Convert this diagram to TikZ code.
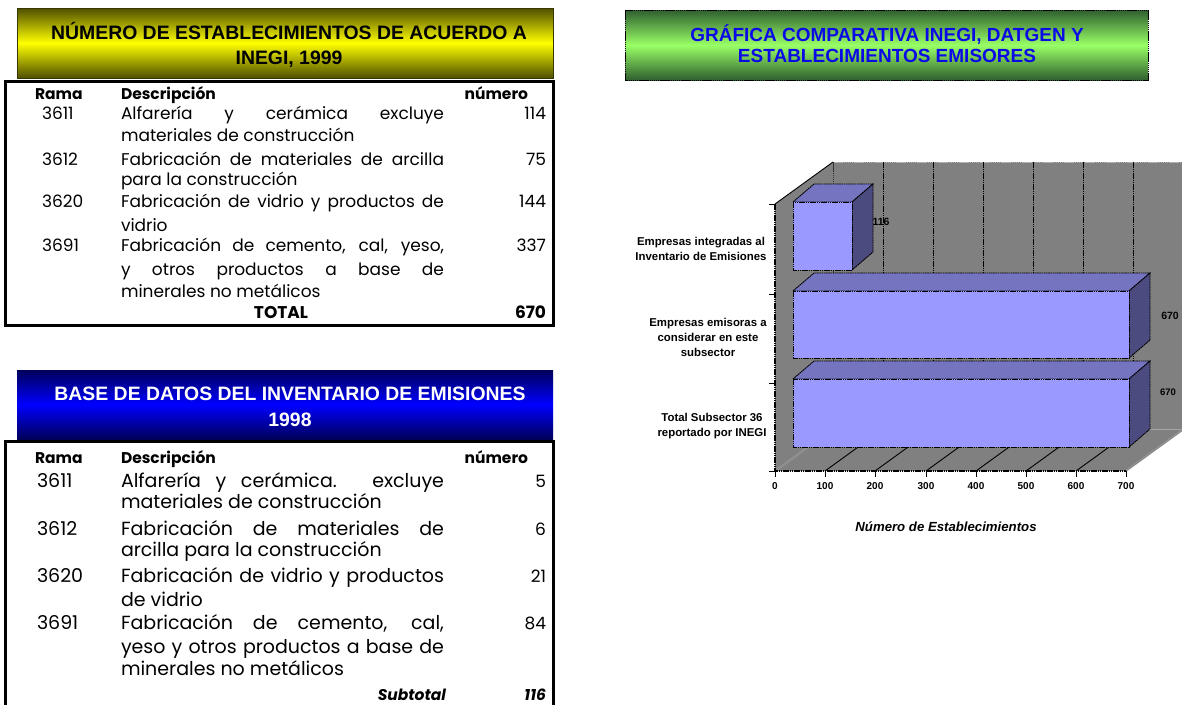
\documentclass[tikz,border=0pt]{standalone}
\usepackage{fontspec}
\setmainfont{Poppins}
\newfontfamily\arialf{Liberation Sans}
\newcommand\TabFA{\fontsize{17}{20}\selectfont}
\newcommand\TabFB{\fontsize{19}{22}\selectfont}
\newcommand\TabFH{\fontsize{15.5}{18}\selectfont\bfseries}
\newcommand\TitF{\arialf\bfseries\fontsize{19.4}{25}\selectfont}
\newcommand\JustLine[1]{\makebox[323pt][s]{#1}}
\definecolor{olivedk}{HTML}{4F4F00}
\definecolor{yelmid}{HTML}{FFFF00}
\definecolor{navydk}{HTML}{00005A}
\definecolor{bluemid}{HTML}{0000FF}
\definecolor{greendk}{HTML}{2F5F2F}
\definecolor{greenmid}{HTML}{99FF66}
\definecolor{titleblue}{HTML}{0A0AE6}
\definecolor{wallgray}{HTML}{808080}
\definecolor{barfront}{HTML}{9999FF}
\definecolor{bartop}{HTML}{7474C0}
\definecolor{barside}{HTML}{4B4B80}
\tikzset{
  every node/.style={inner sep=0pt, outer sep=0pt},
  ta/.style={font=\TabFA, anchor=base west},
  tae/.style={font=\TabFA, anchor=base east},
  tb/.style={font=\TabFB, anchor=base west},
  th/.style={font=\TabFH, anchor=base west},
  the/.style={font=\TabFH, anchor=base east},
  ttl/.style={font=\TitF, anchor=base},
  tabbox/.style={draw=black, line width=3pt},
  barline/.style={draw=black, line width=0.9pt, dash pattern=on 1.6pt off 0.6pt},
  gridl/.style={draw=black, line width=0.9pt, dash pattern=on 1.6pt off 0.6pt},
  clab/.style={font=\arialf\bfseries\fontsize{11.4}{15}\selectfont, align=center},
  vlab/.style={font=\arialf\bfseries\fontsize{10.5}{12}\selectfont},
  xlab/.style={font=\arialf\bfseries\fontsize{10}{12}\selectfont},
}
\begin{document}
\begin{tikzpicture}[x=1pt,y=-1pt]
\useasboundingbox[fill=white] (0,0) rectangle (1182,704);

% ---------- Table 1 ----------
\shade[top color=olivedk, bottom color=olivedk, middle color=yelmid] (17,8) rectangle (553,78);
\draw[olivedk!70!black, line width=0.8pt] (17,8) rectangle (553,78);
\node[ttl] (y1) at (289,39) {NÚMERO DE ESTABLECIMIENTOS DE ACUERDO A};
\node[ttl] (y2) at (289,64) {INEGI, 1999};
\draw[tabbox] (5,81) rectangle (553,325);

\node[th] (a0r) at (35,99) {Rama};
\node[th] (a0d) at (121,99) {Descripción};
\node[the] (a0n) at (528,99) {número};

\node[ta] (a1r) at (42,119) {3611};
\node[ta] (a1d) at (121,119) {\JustLine{Alfarería y cerámica excluye}};
\node[tae] (a1n) at (546,119) {114};
\node[ta] (a1e) at (121,141) {materiales de construcción};

\node[ta] (a2r) at (42,165) {3612};
\node[ta] (a2d) at (121,165) {\JustLine{Fabricación de materiales de arcilla}};
\node[tae] (a2n) at (546,165) {75};
\node[ta] (a2e) at (121,185) {para la construcción};

\node[ta] (a3r) at (42,207) {3620};
\node[ta] (a3d) at (121,207) {\JustLine{Fabricación de vidrio y productos de}};
\node[tae] (a3n) at (546,207) {144};
\node[ta] (a3e) at (121,231) {vidrio};

\node[ta] (a4r) at (42,251) {3691};
\node[ta] (a4d) at (121,251) {\JustLine{Fabricación de cemento, cal, yeso,}};
\node[tae] (a4n) at (546,251) {337};
\node[ta] (a4e) at (121,275) {\JustLine{y otros productos a base de}};
\node[ta] (a4f) at (121,297) {minerales no metálicos};

\node[font=\TabFA\bfseries, anchor=base] (atot) at (281,318) {TOTAL};
\node[tae, font=\TabFA\bfseries] (atotn) at (546,318) {670};

% ---------- Table 2 ----------
\shade[top color=navydk, bottom color=navydk, middle color=bluemid] (17,370) rectangle (553,439);
\node[ttl, text=white] (b1) at (290,400) {BASE DE DATOS DEL INVENTARIO DE EMISIONES};
\node[ttl, text=white] (b2) at (290,426) {1998};
\draw[tabbox] (5,441) rectangle (553,720);

\node[th] (b0r) at (35,463) {Rama};
\node[th] (b0d) at (121,463) {Descripción};
\node[the] (b0n) at (528,463) {número};

\node[tb] (b1r) at (37,487) {3611};
\node[tb] (b1d) at (121,487) {\JustLine{Alfarería y cerámica. excluye}};
\node[tae] (b1n) at (546,487) {5};
\node[tb] (b1e) at (121,508) {materiales de construcción};

\node[tb] (b2r) at (37,535) {3612};
\node[tb] (b2d) at (121,535) {\JustLine{Fabricación de materiales de}};
\node[tae] (b2n) at (546,535) {6};
\node[tb] (b2e) at (121,556) {arcilla para la construcción};

\node[tb] (b3r) at (37,582) {3620};
\node[tb] (b3d) at (121,582) {\JustLine{Fabricación de vidrio y productos}};
\node[tae] (b3n) at (546,582) {21};
\node[tb] (b3e) at (121,606) {de vidrio};

\node[tb] (b4r) at (37,629) {3691};
\node[tb] (b4d) at (121,629) {\JustLine{Fabricación de cemento, cal,}};
\node[tae] (b4n) at (546,629) {84};
\node[tb] (b4e) at (121,653) {\JustLine{yeso y otros productos a base de}};
\node[tb] (b4f) at (121,675) {minerales no metálicos};

\node[the, font=\TabFH\itshape] (bsub) at (446,700) {Subtotal};
\node[the, font=\TabFH\itshape] (bsubn) at (546,700) {116};

% ---------- Chart title ----------
\shade[top color=greendk, bottom color=greendk, middle color=greenmid] (625,10) rectangle (1148,80);
\draw[black, line width=0.8pt, dash pattern=on 1.5pt off 0.6pt] (625,10) rectangle (1148,80);
\node[ttl, text=titleblue, font=\arialf\bfseries\fontsize{19}{22}\selectfont] (g1) at (887,41.5) {GRÁFICA COMPARATIVA INEGI, DATGEN Y};
\node[ttl, text=titleblue, font=\arialf\bfseries\fontsize{19}{22}\selectfont] (g2) at (887,62.5) {ESTABLECIMIENTOS EMISORES};

% ---------- Chart walls ----------
\fill[wallgray] (833,162) rectangle (1200,429);
\fill[wallgray] (775,204) -- (833,162) -- (833,429) -- (775,471) -- cycle;
\fill[wallgray] (775,471) -- (1126,471) -- (1184,429) -- (833,429) -- cycle;
\draw[gray!60, line width=0.6pt, dash pattern=on 1.5pt off 0.6pt] (833,162) -- (1200,162);
\draw[gray!40!black, line width=0.8pt, dash pattern=on 1.5pt off 0.6pt] (833,162) -- (833,429);
\foreach \gx in {883,933,983,1033,1083,1133}
  \draw[gridl] (\gx,162) -- (\gx,429);
\draw[gray!70, line width=0.5pt] (833,429) -- (1200,429);
\draw[black, line width=0.9pt] (775,204) -- (833,162);
\foreach \fx in {825,875,926,976,1026,1076}
  \draw[black, line width=0.9pt] (\fx,471) -- ++(58,-42);
\draw[gray!70, line width=1.6pt] (775,471) -- (833,429);
\draw[wallgray, line width=0.6pt] (775,471) -- (833,429);
\draw[gray!70, line width=1.6pt] (1126,471) -- (1184,429);
\draw[wallgray, line width=0.6pt] (1126,471) -- (1184,429);
\draw[gridl, line width=1.2pt] (775,204) -- (775,471) -- (1126,471);
\foreach \ty in {204,294,383,471}
  \draw[black, line width=0.9pt] (769,\ty) -- (775,\ty);
\foreach \tx in {775,825,875,926,976,1026,1076,1126}
  \draw[black, line width=0.9pt] (\tx,471) -- (\tx,477);

% ---------- Bars ----------
\filldraw[fill=bartop, barline] (793,202) -- (814,184) -- (873,184) -- (852,202) -- cycle;
\filldraw[fill=barside, barline] (852,202) -- (873,184) -- (873,252) -- (852,270) -- cycle;
\filldraw[fill=barfront, barline] (793,202) rectangle (852,270);

\filldraw[fill=bartop, barline] (793,291) -- (814,273) -- (1150,273) -- (1129,291) -- cycle;
\filldraw[fill=barside, barline] (1129,291) -- (1150,273) -- (1150,340) -- (1129,358) -- cycle;
\filldraw[fill=barfront, barline] (793,291) rectangle (1129,358);

\filldraw[fill=bartop, barline] (793,379) -- (814,361) -- (1150,361) -- (1129,379) -- cycle;
\filldraw[fill=barside, barline] (1129,379) -- (1150,361) -- (1150,429) -- (1129,447) -- cycle;
\filldraw[fill=barfront, barline] (793,379) rectangle (1129,447);

% ---------- Chart labels ----------
\node[vlab] (v1) at (881,222) {116};
\node[vlab] (v2) at (1170,316) {670};
\node[vlab, font=\arialf\bfseries\fontsize{9.5}{11}\selectfont] (v3) at (1168,392) {670};

\node[clab] (c1) at (701,249) {Empresas integradas al\\Inventario de Emisiones};
\node[clab] (c2) at (708,337) {Empresas emisoras a\\considerar en este\\subsector};
\node[clab] (c3) at (712,426) {Total Subsector 36\\reportado por INEGI};

\node[xlab] (x0) at (775,486) {0};
\node[xlab] (x1) at (825,486) {100};
\node[xlab] (x2) at (875,486) {200};
\node[xlab] (x3) at (926,486) {300};
\node[xlab] (x4) at (976,486) {400};
\node[xlab] (x5) at (1026,486) {500};
\node[xlab] (x6) at (1076,486) {600};
\node[xlab] (x7) at (1126,486) {700};

\node[font=\arialf\bfseries\itshape\fontsize{13.2}{15}\selectfont] (xt) at (946,527) {Número de Establecimientos};
\end{tikzpicture}
\end{document}
